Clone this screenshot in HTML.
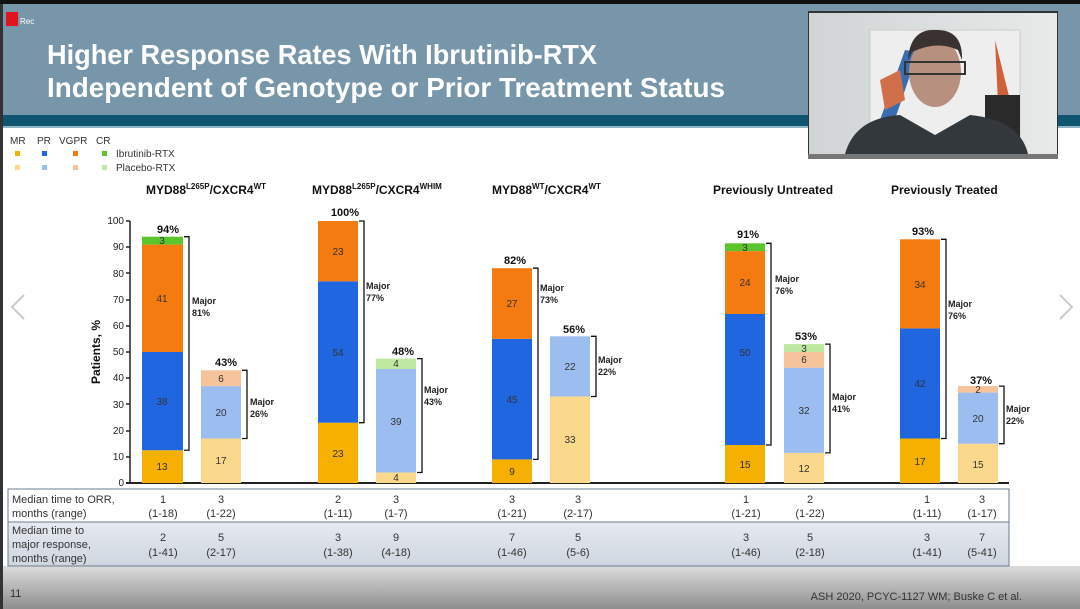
<!DOCTYPE html>
<html><head><meta charset="utf-8"><style>
body{margin:0;width:1080px;height:609px;overflow:hidden;background:#fff;font-family:"Liberation Sans",sans-serif}
svg{display:block}
</style></head><body>
<svg width="1080" height="609" viewBox="0 0 1080 609" xmlns="http://www.w3.org/2000/svg" font-family="Liberation Sans, sans-serif">
<defs>
<linearGradient id="foot" x1="0" y1="0" x2="0" y2="1"><stop offset="0" stop-color="#dcdcdc"/><stop offset="1" stop-color="#8e8e8e"/></linearGradient>
<linearGradient id="row2" x1="0" y1="0" x2="0" y2="1"><stop offset="0" stop-color="#e6eaf0"/><stop offset="1" stop-color="#cfd6df"/></linearGradient>
<linearGradient id="cam" x1="0" y1="0" x2="1" y2="0"><stop offset="0" stop-color="#d0d4d4"/><stop offset="1" stop-color="#e8eaea"/></linearGradient>
</defs>
<rect x="0" y="0" width="1080" height="609" fill="#fff"/>
<rect x="0" y="0" width="1080" height="4" fill="#111"/>
<rect x="0" y="4" width="1080" height="112" fill="#7896a9"/>
<rect x="0" y="115" width="1080" height="11" fill="#0f5470"/>
<rect x="0" y="126" width="1080" height="2" fill="#8fb4c4"/>
<rect x="0" y="4" width="3" height="605" fill="#333"/>
<rect x="6" y="12" width="12" height="14" fill="#e0141e"/>
<text x="20" y="24" font-size="8" fill="#fff">Rec</text>
<text x="47" y="64" font-size="28" font-weight="bold" fill="#fff" textLength="550" lengthAdjust="spacingAndGlyphs">Higher Response Rates With Ibrutinib-RTX</text>
<text x="47" y="97" font-size="28" font-weight="bold" fill="#fff" textLength="678" lengthAdjust="spacingAndGlyphs">Independent of Genotype or Prior Treatment Status</text>
<!-- webcam -->
<rect x="808" y="11" width="250" height="148" fill="#333"/>
<rect x="809" y="13" width="248" height="141" fill="url(#cam)"/>
<rect x="870" y="30" width="150" height="110" fill="#eeeeee" stroke="#ccc"/>
<path d="M880 120 L905 50 L918 52 L893 125Z" fill="#3a6db0"/>
<path d="M995 40 L1010 100 L998 104 Z" fill="#d0603a"/>
<path d="M880 80 L900 70 L905 100 L885 110Z" fill="#d0704a"/>
<rect x="985" y="95" width="35" height="60" fill="#2a2a2a"/>
<ellipse cx="935" cy="72" rx="26" ry="35" fill="#b89080"/>
<path d="M908 60 Q910 28 937 30 Q963 30 962 60 L958 50 Q937 40 912 52Z" fill="#3a3230"/>
<rect x="905" y="62" width="60" height="12" fill="none" stroke="#333" stroke-width="2"/>
<path d="M845 154 Q855 118 900 115 L935 135 L970 115 Q1020 120 1028 154Z" fill="#33383c"/>
<rect x="808" y="154" width="250" height="5" fill="#777"/>
<!-- legend -->
<g font-size="10" fill="#333">
<text x="10" y="144">MR</text><text x="37" y="144">PR</text><text x="59" y="144">VGPR</text><text x="96" y="144">CR</text>
<rect x="15" y="151" width="5" height="5" fill="#f5b000"/><rect x="42" y="151" width="5" height="5" fill="#1f66e0"/><rect x="73" y="151" width="5" height="5" fill="#f47b10"/><rect x="102" y="151" width="5" height="5" fill="#5cc42c"/>
<rect x="15" y="165" width="5" height="5" fill="#fad98c"/><rect x="42" y="165" width="5" height="5" fill="#9cbdf0"/><rect x="73" y="165" width="5" height="5" fill="#f6c49a"/><rect x="102" y="165" width="5" height="5" fill="#bfe9a0"/>
<text x="116" y="157">Ibrutinib-RTX</text><text x="116" y="171">Placebo-RTX</text>
</g>
<!-- group titles -->
<g font-size="12" font-weight="bold" fill="#111">
<text x="146" y="194">MYD88<tspan font-size="8" dy="-5">L265P</tspan><tspan dy="5">/CXCR4</tspan><tspan font-size="8" dy="-5">WT</tspan></text>
<text x="312" y="194">MYD88<tspan font-size="8" dy="-5">L265P</tspan><tspan dy="5">/CXCR4</tspan><tspan font-size="8" dy="-5">WHIM</tspan></text>
<text x="492" y="194">MYD88<tspan font-size="8" dy="-5">WT</tspan><tspan dy="5">/CXCR4</tspan><tspan font-size="8" dy="-5">WT</tspan></text>
<text x="713" y="194">Previously Untreated</text>
<text x="891" y="194">Previously Treated</text>
</g>
<!-- axis -->
<g font-size="10" fill="#222" text-anchor="end">
<text x="124" y="486">0</text><text x="124" y="460">10</text><text x="124" y="434">20</text><text x="124" y="408">30</text><text x="124" y="381">40</text><text x="124" y="355">50</text><text x="124" y="329">60</text><text x="124" y="303">70</text><text x="124" y="277">80</text><text x="124" y="250">90</text><text x="124" y="224">100</text>
</g>
<g stroke="#222" stroke-width="1.5">
<line x1="130" y1="221" x2="130" y2="484"/>
<line x1="126" y1="483" x2="1009" y2="483" stroke-width="2"/>
<line x1="126" y1="457" x2="130" y2="457"/><line x1="126" y1="431" x2="130" y2="431"/><line x1="126" y1="404" x2="130" y2="404"/><line x1="126" y1="378" x2="130" y2="378"/><line x1="126" y1="352" x2="130" y2="352"/><line x1="126" y1="326" x2="130" y2="326"/><line x1="126" y1="300" x2="130" y2="300"/><line x1="126" y1="273" x2="130" y2="273"/><line x1="126" y1="247" x2="130" y2="247"/><line x1="126" y1="221" x2="130" y2="221"/>
</g>
<text transform="translate(100,352) rotate(-90)" font-size="12" font-weight="bold" text-anchor="middle" fill="#111">Patients, %</text>
<!-- bars -->
<g>
<rect x="142" y="450.25" width="41" height="32.75" fill="#f5b000"/><rect x="142" y="352" width="41" height="98.25" fill="#1f66e0"/><rect x="142" y="244.6" width="41" height="107.4" fill="#f47b10"/><rect x="142" y="236.7" width="41" height="7.9" fill="#5cc42c"/>
<rect x="201" y="438.5" width="40" height="44.5" fill="#fad98c"/><rect x="201" y="386.1" width="40" height="52.4" fill="#9cbdf0"/><rect x="201" y="370.3" width="40" height="15.8" fill="#f6c49a"/>
<rect x="318" y="422.7" width="40" height="60.3" fill="#f5b000"/><rect x="318" y="281.3" width="40" height="141.4" fill="#1f66e0"/><rect x="318" y="221" width="40" height="60.3" fill="#f47b10"/>
<rect x="376" y="472.5" width="40" height="10.5" fill="#fad98c"/><rect x="376" y="369" width="40" height="103.5" fill="#9cbdf0"/><rect x="376" y="358.6" width="40" height="10.4" fill="#bfe9a0"/>
<rect x="492" y="459.4" width="40" height="23.6" fill="#f5b000"/><rect x="492" y="338.9" width="40" height="120.5" fill="#1f66e0"/><rect x="492" y="268.2" width="40" height="70.7" fill="#f47b10"/>
<rect x="550" y="396.5" width="40" height="86.5" fill="#fad98c"/><rect x="550" y="336.3" width="40" height="60.2" fill="#9cbdf0"/>
<rect x="725" y="445" width="40" height="38" fill="#f5b000"/><rect x="725" y="314" width="40" height="131" fill="#1f66e0"/><rect x="725" y="251.1" width="40" height="62.9" fill="#f47b10"/><rect x="725" y="243.3" width="40" height="7.8" fill="#5cc42c"/>
<rect x="784" y="452.9" width="40" height="30.1" fill="#fad98c"/><rect x="784" y="367.7" width="40" height="85.2" fill="#9cbdf0"/><rect x="784" y="352" width="40" height="15.7" fill="#f6c49a"/><rect x="784" y="344.1" width="40" height="7.9" fill="#bfe9a0"/>
<rect x="900" y="438.5" width="40" height="44.5" fill="#f5b000"/><rect x="900" y="328.4" width="40" height="110.1" fill="#1f66e0"/><rect x="900" y="239.3" width="40" height="89.1" fill="#f47b10"/>
<rect x="958" y="443.7" width="40" height="39.3" fill="#fad98c"/><rect x="958" y="392.6" width="40" height="51.1" fill="#9cbdf0"/><rect x="958" y="386.1" width="40" height="6.5" fill="#f6c49a"/>
</g>
<!-- segment labels -->
<g font-size="10" text-anchor="middle" fill="#333">
<text x="162" y="470">13</text><text x="162" y="405">38</text><text x="162" y="302">41</text><text x="162" y="244">3</text>
<text x="221" y="464">17</text><text x="221" y="416">20</text><text x="221" y="382">6</text>
<text x="338" y="457">23</text><text x="338" y="356">54</text><text x="338" y="255">23</text>
<text x="396" y="481">4</text><text x="396" y="425">39</text><text x="396" y="367">4</text>
<text x="512" y="475">9</text><text x="512" y="403">45</text><text x="512" y="307">27</text>
<text x="570" y="443">33</text><text x="570" y="370">22</text>
<text x="745" y="468">15</text><text x="745" y="356">50</text><text x="745" y="286">24</text><text x="745" y="251">3</text>
<text x="804" y="472">12</text><text x="804" y="414">32</text><text x="804" y="363">6</text><text x="804" y="352">3</text>
<text x="920" y="465">17</text><text x="920" y="387">42</text><text x="920" y="288">34</text>
<text x="978" y="468">15</text><text x="978" y="422">20</text><text x="978" y="393">2</text>
</g>
<!-- totals -->
<g font-size="11" font-weight="bold" text-anchor="middle" fill="#111">
<text x="168" y="233">94%</text><text x="226" y="366">43%</text><text x="345" y="216">100%</text><text x="403" y="355">48%</text>
<text x="515" y="264">82%</text><text x="574" y="333">56%</text><text x="748" y="238">91%</text><text x="806" y="340">53%</text>
<text x="923" y="235">93%</text><text x="981" y="384">37%</text>
</g>
<!-- brackets -->
<g fill="none" stroke="#111" stroke-width="1.3">
<path d="M184 236.7 H189 V450.25 H184"/><path d="M242 370.3 H247 V438.5 H242"/>
<path d="M359 221 H364 V422.7 H359"/><path d="M417 358.6 H422 V472.5 H417"/>
<path d="M533 268.2 H538 V459.4 H533"/><path d="M591 336.3 H596 V396.5 H591"/>
<path d="M766 243.3 H771 V445 H766"/><path d="M825 344.1 H830 V452.9 H825"/>
<path d="M941 239.3 H946 V438.5 H941"/><path d="M999 386.1 H1004 V443.7 H999"/>
</g>
<g font-size="9" font-weight="bold" fill="#222">
<text x="192" y="304">Major</text><text x="192" y="316">81%</text>
<text x="250" y="405">Major</text><text x="250" y="417">26%</text>
<text x="366" y="289">Major</text><text x="366" y="301">77%</text>
<text x="424" y="393">Major</text><text x="424" y="405">43%</text>
<text x="540" y="291">Major</text><text x="540" y="303">73%</text>
<text x="598" y="363">Major</text><text x="598" y="375">22%</text>
<text x="775" y="282">Major</text><text x="775" y="294">76%</text>
<text x="832" y="400">Major</text><text x="832" y="412">41%</text>
<text x="948" y="307">Major</text><text x="948" y="319">76%</text>
<text x="1006" y="412">Major</text><text x="1006" y="424">22%</text>
</g>
<!-- nav arrows -->
<path d="M24 295 L12 307 L24 319" fill="none" stroke="#ccc" stroke-width="2"/>
<path d="M1060 295 L1072 307 L1060 319" fill="none" stroke="#ccc" stroke-width="2"/>
<!-- footer -->
<rect x="0" y="566" width="1080" height="43" fill="url(#foot)"/>
<rect x="0" y="566" width="3" height="43" fill="#333"/>
<!-- table -->
<rect x="8" y="489" width="1001" height="33" fill="#fff" stroke="#6b7c8c" stroke-width="1"/>
<rect x="8" y="522" width="1001" height="44" fill="url(#row2)" stroke="#6b7c8c" stroke-width="1"/>
<g font-size="11" fill="#333">
<text x="12" y="503">Median time to ORR,</text><text x="12" y="517">months (range)</text>
<text x="12" y="534">Median time to</text><text x="12" y="548">major response,</text><text x="12" y="562">months (range)</text>
</g>
<g font-size="11" fill="#333" text-anchor="middle">
<text x="163" y="503">1</text><text x="163" y="517">(1-18)</text><text x="221" y="503">3</text><text x="221" y="517">(1-22)</text>
<text x="338" y="503">2</text><text x="338" y="517">(1-11)</text><text x="396" y="503">3</text><text x="396" y="517">(1-7)</text>
<text x="512" y="503">3</text><text x="512" y="517">(1-21)</text><text x="578" y="503">3</text><text x="578" y="517">(2-17)</text>
<text x="746" y="503">1</text><text x="746" y="517">(1-21)</text><text x="810" y="503">2</text><text x="810" y="517">(1-22)</text>
<text x="927" y="503">1</text><text x="927" y="517">(1-11)</text><text x="982" y="503">3</text><text x="982" y="517">(1-17)</text>
<text x="163" y="541">2</text><text x="163" y="556">(1-41)</text><text x="221" y="541">5</text><text x="221" y="556">(2-17)</text>
<text x="338" y="541">3</text><text x="338" y="556">(1-38)</text><text x="396" y="541">9</text><text x="396" y="556">(4-18)</text>
<text x="512" y="541">7</text><text x="512" y="556">(1-46)</text><text x="578" y="541">5</text><text x="578" y="556">(5-6)</text>
<text x="746" y="541">3</text><text x="746" y="556">(1-46)</text><text x="810" y="541">5</text><text x="810" y="556">(2-18)</text>
<text x="927" y="541">3</text><text x="927" y="556">(1-41)</text><text x="982" y="541">7</text><text x="982" y="556">(5-41)</text>
</g>
<text x="10" y="597" font-size="11" fill="#333">11</text>
<text x="1022" y="600" font-size="11" fill="#333" text-anchor="end">ASH 2020, PCYC-1127 WM; Buske C et al.</text>
</svg>
</body></html>
